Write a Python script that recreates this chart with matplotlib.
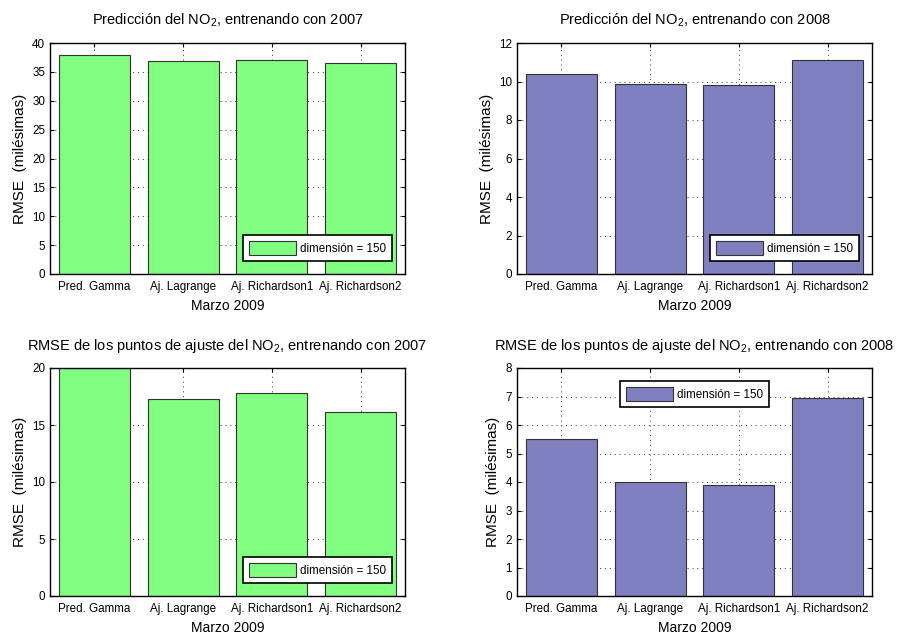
import matplotlib
matplotlib.use('Agg')
import matplotlib.pyplot as plt
import numpy as np

plt.rcParams['font.family'] = ['Liberation Sans', 'DejaVu Sans']
plt.rcParams['mathtext.fontset'] = 'custom'
plt.rcParams['mathtext.rm'] = 'Liberation Sans'
plt.rcParams['mathtext.it'] = 'Liberation Sans'

# Data
methods = ['Pred. Gamma', 'Aj. Lagrange', 'Aj. Richardson1', 'Aj. Richardson2']
pred_2007 = [38.0, 36.9, 37.1, 36.5]
pred_2008 = [10.4, 9.85, 9.8, 11.1]
ajuste_2007 = [20.0, 17.3, 17.8, 16.1]
ajuste_2008 = [5.5, 4.0, 3.88, 6.95]

titles = ['Predicción del NO$_2$, entrenando con 2007',
          'Predicción del NO$_2$, entrenando con 2008',
          'RMSE de los puntos de ajuste del NO$_2$, entrenando con 2007',
          'RMSE de los puntos de ajuste del NO$_2$, entrenando con 2008']
green = '#80ff80'
purple = '#8080c0'

fig = plt.figure(figsize=(8.97, 6.39), dpi=100)
W, H = 897, 639
# axes boxes in pixels: left, top, right, bottom
boxes = [(50, 43, 405, 274), (517, 43, 872, 274),
         (50, 368, 405, 596), (517, 368, 872, 596)]
series = [pred_2007, pred_2008, ajuste_2007, ajuste_2008]
colors = [green, purple, green, purple]
ylims = [(0, 40, 5), (0, 12, 2), (0, 20, 5), (0, 8, 1)]
legend_locs = ['lower right', 'lower right', 'lower right', 'upper center']

x = np.arange(1, 5)
for i in range(4):
    l, t, r, b = boxes[i]
    ax = fig.add_axes([l / W, 1 - b / H, (r - l) / W, (b - t) / H])
    ax.bar(x, series[i], width=0.8, color=colors[i], edgecolor='#333333',
           linewidth=0.8, label='dimensión = 150', zorder=2)
    ax.set_xlim(0.5, 4.5)
    lo, hi, step = ylims[i]
    ax.set_ylim(lo, hi)
    ax.set_yticks(np.arange(lo, hi + step / 2, step))
    ax.set_xticks(x)
    ax.set_xticklabels(methods, fontsize=8.4)
    ax.tick_params(axis='y', labelsize=8.4)
    ax.tick_params(axis='x', pad=5)
    ax.tick_params(direction='in', top=True, right=True, length=3, width=0.8)
    ax.grid(True, linestyle=(0, (1, 4)), color='#333333', linewidth=0.7, zorder=0)
    ax.set_axisbelow(True)
    for s in ax.spines.values():
        s.set_linewidth(1.0)
    ax.set_title(titles[i], fontsize=10.5, pad=13)
    ax.set_ylabel('RMSE  (milésimas)', fontsize=11, labelpad=4)
    ax.set_xlabel('Marzo 2009', fontsize=10, labelpad=4)
    leg = ax.legend(loc=legend_locs[i], fontsize=8.4, handlelength=4,
                    handleheight=1.5, fancybox=False, framealpha=1,
                    borderaxespad=1.1, borderpad=0.5, handletextpad=0.4)
    leg.get_frame().set_edgecolor('black')
    leg.get_frame().set_linewidth(1.2)

fig.savefig('out.png', dpi=100)
